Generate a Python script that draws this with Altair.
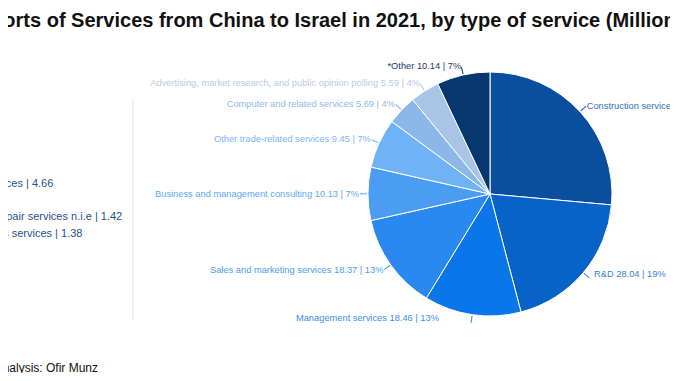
import math
import altair as alt
import pandas as pd

# ---- data ----
categories = [
    "Construction services",
    "R&D",
    "Management services",
    "Sales and marketing services",
    "Business and management consulting",
    "Other trade-related services",
    "Computer and related services",
    "Advertising, market research, and public opinion polling",
    "*Other",
]
values = [38.02, 28.04, 18.46, 18.37, 10.13, 9.45, 5.69, 5.59, 10.14]

slice_colors = ["#0a4e9e", "#0863c8", "#0b75ea", "#2989f1", "#4b9df3",
                "#70b2f6", "#8cb8e9", "#a9c5e6", "#07376f"]
label_colors = ["#2f6fc0", "#3b7fd2", "#3b8de8", "#4b9cf2", "#5ca7f3",
                "#78b6f6", "#8cbaec", "#b4cbe8", "#1d3b66"]

other_items = ["Transportation services", "Insurance",
               "Maintenance and repair services n.i.e", "Telecommunications services"]
other_values = [4.66, 2.66, 1.42, 1.38]

title_text = "Imports of Services from China to Israel in 2021, by type of service (Millions $)"
source_text = "Source: Israel CBS | Analysis: Ofir Munz"

FONT = "Liberation Sans"
CX, CY = 482, 186
R = 122

df = pd.DataFrame({"cat": categories, "value": values, "order": list(range(len(values)))})

pie = alt.Chart(df).mark_arc(outerRadius=R, stroke="white", strokeWidth=1).encode(
    theta=alt.Theta("value:Q", stack=True),
    order=alt.Order("order:Q"),
    color=alt.Color("cat:N", scale=alt.Scale(domain=categories, range=slice_colors), legend=None),
    x=alt.value(CX), y=alt.value(CY),
)

lab = (
    alt.Chart(df)
    .transform_window(cum="sum(value)", sort=[alt.SortField("order")], frame=[None, 0])
    .transform_joinaggregate(total="sum(value)")
    .transform_calculate(
        mid="(datum.cum - datum.value / 2) / datum.total",
        label="datum.cat + ' ' + format(datum.value, '.2f') + ' | ' + format(datum.value / datum.total * 100, '.0f') + '%'",
    )
    .transform_calculate(t0="datum.mid - 0.0007", t1="datum.mid + 0.0007")
)

frac_scale = alt.Scale(domain=[0, 1], range=[0, 2 * math.pi])
lab_color = alt.Color("cat:N", scale=alt.Scale(domain=categories, range=label_colors), legend=None)


def labels(filter_expr, align, dx=0, dy=0):
    return lab.transform_filter(filter_expr).mark_text(
        radius=131, align=align, baseline="middle", font=FONT, fontSize=9.3, dx=dx, dy=dy
    ).encode(
        theta=alt.Theta("mid:Q", scale=frac_scale, stack=None),
        text="label:N",
        color=lab_color,
        x=alt.value(CX), y=alt.value(CY),
    )


lab_left = labels("datum.mid > 0.5 && datum.order != 2", "right")
lab_right = labels("datum.mid <= 0.5 && datum.order != 1", "left")
lab_rd = labels("datum.order == 1", "left", dx=4, dy=-5)
lab_mgmt = labels("datum.order == 2", "right", dx=-32, dy=-6)

ticks = lab.mark_arc(innerRadius=R + 1, outerRadius=R + 8).encode(
    theta=alt.Theta("t0:Q", scale=frac_scale, stack=None),
    theta2="t1:Q",
    color=lab_color,
    x=alt.value(CX), y=alt.value(CY),
)

title = alt.Chart(pd.DataFrame({"t": [title_text]})).mark_text(
    font=FONT, fontSize=20, fontWeight="bold", align="center", baseline="middle", color="#111111"
).encode(text="t:N", x=alt.value(331), y=alt.value(13))

source = alt.Chart(pd.DataFrame({"t": [source_text]})).mark_text(
    font=FONT, fontSize=12, align="right", baseline="middle", color="#111111"
).encode(text="t:N", x=alt.value(90), y=alt.value(360))

odf = pd.DataFrame({
    "item": other_items,
    "v": other_values,
    "i": list(range(len(other_items))),
})
other_list = alt.Chart(odf).transform_calculate(
    txt="datum.item + ' | ' + format(datum.v, '.2f')"
).mark_text(font=FONT, fontSize=11, align="left", baseline="middle", color="#1f4f8f").encode(
    text="txt:N",
    x=alt.value(-99),
    y=alt.Y("i:Q", scale=alt.Scale(domain=[0, 3], range=[176, 226]), axis=None),
)

divider = alt.Chart(pd.DataFrame({"a": [0]})).mark_rule(color="#e6e6e6", strokeWidth=1).encode(
    x=alt.value(125), y=alt.value(90), y2=alt.value(312)
)

chart = alt.layer(
    divider, pie, ticks, lab_left, lab_right, lab_rd, lab_mgmt, other_list, title, source
).resolve_scale(theta="independent", color="independent", y="independent").properties(
    width=662, height=365, padding=0,
    autosize=alt.AutoSizeParams(type="none"),
    background="white",
).configure_view(stroke=None)

chart.save("out.html", embed_options={"renderer": "svg", "actions": False})
